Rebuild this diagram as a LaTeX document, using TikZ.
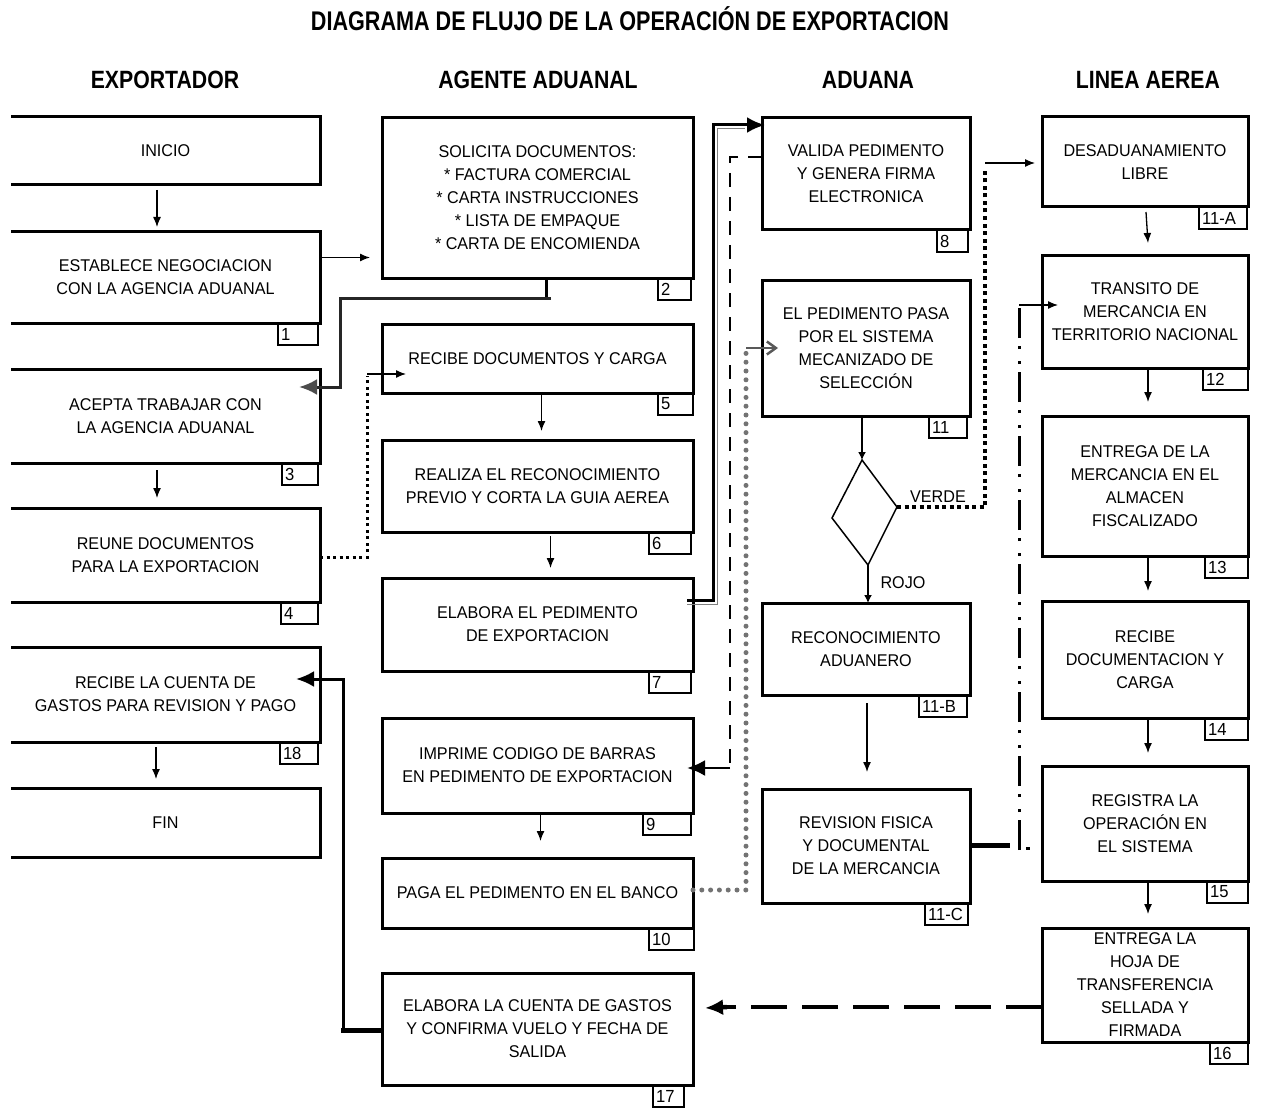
\documentclass[tikz,border=0pt]{standalone}
\usepackage{fontspec}
\setmainfont{Liberation Sans}[FakeStretch=0.95]
\newfontfamily\headfont{Liberation Sans}[FakeStretch=0.85]
\newfontfamily\titlefont{Liberation Sans}[FakeStretch=0.80]
\usetikzlibrary{arrows.meta,calc}
\newcommand\bodyfont{\fontsize{17}{23}\selectfont}
\newcommand\tagfont{\fontsize{17.5}{19}\selectfont}
\tikzset{
  pbox/.style={draw, line width=3pt, inner sep=0pt, outer sep=0pt, align=center, font=\bodyfont},
  obox/.style={pbox, draw=none},
  tagbox/.style={draw, line width=1.2pt, inner xsep=3pt, inner ysep=0pt, outer sep=0pt, minimum height=22pt, align=left, font=\tagfont, anchor=north east},
  sarrow/.style={line width=1.3pt, -{Latex[length=10pt,width=8pt]}},
  bighead/.style={-{Latex[length=18pt,width=16pt]}},
  grayhead/.style={-{Latex[length=18pt,width=16pt,color=black!70]}},
  thickln/.style={line width=3pt},
  sqdots/.style={line width=3pt, dash pattern=on 3pt off 3.5pt},
  rdots/.style={line width=5pt, line cap=round, draw=black!55, dash pattern=on 0pt off 8.8pt},
  heavydots/.style={line width=4pt, dash pattern=on 4pt off 3.5pt},
  dashline/.style={line width=2.6pt, dash pattern=on 14pt off 10pt},
  bigdash/.style={line width=4.5pt, dash pattern=on 36pt off 15pt},
  dashdot/.style={line width=3pt, dash pattern=on 30pt off 8pt on 3pt off 12pt on 3pt off 8pt},
  lbl/.style={font=\bodyfont, inner sep=0pt},
  head/.style={font=\headfont\bfseries\fontsize{25}{28}\selectfont, inner sep=0pt},
}
\newcommand\bx[7]{\node[#1, minimum width={(#5-#3)*1pt}, minimum height={(#6-#4)*1pt}] (#2) at ({(#3+#5)/2},{(#4+#6)/2}) {#7};}
\newcommand\tg[4]{\node[tagbox, text width={(#4-6)*1pt}] (t#1) at ($(#1.south east)+(#3,0)$) {\mbox{#2}};}
\begin{document}
\begin{tikzpicture}[x=1pt,y=-1pt]
\useasboundingbox (0,0) rectangle (1261,1110);
% titles
\node[head, font=\titlefont\bfseries\fontsize{27}{30}\selectfont] (title) at (630,19) {DIAGRAMA DE FLUJO DE LA OPERACIÓN DE EXPORTACION};
\node[head] (h1) at (165,80) {EXPORTADOR};
\node[head] (h2) at (538,80) {AGENTE ADUANAL};
\node[head] (h3) at (868,80) {ADUANA};
\node[head] (h4) at (1148,80) {LINEA AEREA};
% column 1
\bx{obox}{ini}{11}{117}{320}{185}{INICIO}
\bx{obox}{n1}{11}{232}{320}{323}{ESTABLECE NEGOCIACION\\CON LA AGENCIA ADUANAL}
\bx{obox}{n3}{11}{369}{320}{463}{ACEPTA TRABAJAR CON\\LA AGENCIA ADUANAL}
\bx{obox}{n4}{11}{508}{320}{602}{REUNE DOCUMENTOS\\PARA LA EXPORTACION}
\bx{obox}{n18}{11}{647}{320}{742}{RECIBE LA CUENTA DE\\GASTOS PARA REVISION Y PAGO}
\bx{obox}{fin}{11}{788}{320}{857}{FIN}
\foreach \n in {ini,n1,n3,n4,n18,fin}
  \draw[line width=3pt, line join=miter] (\n.north west) -- (\n.north east) -- (\n.south east) -- (\n.south west);
% column 2
\bx{pbox}{n2}{382}{118}{693}{278}{SOLICITA DOCUMENTOS:\\* FACTURA COMERCIAL\\* CARTA INSTRUCCIONES\\* LISTA DE EMPAQUE\\* CARTA DE ENCOMIENDA}
\bx{pbox}{n5}{382}{324}{693}{393}{RECIBE DOCUMENTOS Y CARGA}
\bx{pbox}{n6}{382}{440}{693}{532}{REALIZA EL RECONOCIMIENTO\\PREVIO Y CORTA LA GUIA AEREA}
\bx{pbox}{n7}{382}{578}{693}{671}{ELABORA EL PEDIMENTO\\DE EXPORTACION}
\bx{pbox}{n9}{382}{718}{693}{813}{IMPRIME CODIGO DE BARRAS\\EN PEDIMENTO DE EXPORTACION}
\bx{pbox}{n10}{382}{858}{693}{928}{PAGA EL PEDIMENTO EN EL BANCO}
\bx{pbox}{n17}{382}{973}{693}{1085}{ELABORA LA CUENTA DE GASTOS\\Y CONFIRMA VUELO Y FECHA DE\\SALIDA}
% column 3
\bx{pbox}{n8}{762}{118}{970}{230}{VALIDA PEDIMENTO\\Y GENERA FIRMA\\ELECTRONICA}
\bx{pbox}{n11}{762}{280}{970}{416}{EL PEDIMENTO PASA\\POR EL SISTEMA\\MECANIZADO DE\\SELECCIÓN}
\bx{pbox}{n11B}{762}{603}{970}{695}{RECONOCIMIENTO\\ADUANERO}
\bx{pbox}{n11C}{762}{789}{970}{903}{REVISION FISICA\\Y DOCUMENTAL\\DE LA MERCANCIA}
% column 4
\bx{pbox}{n11A}{1042}{117}{1248}{207}{DESADUANAMIENTO\\LIBRE}
\bx{pbox}{n12}{1042}{255}{1248}{368}{TRANSITO DE\\MERCANCIA EN\\TERRITORIO NACIONAL}
\bx{pbox}{n13}{1042}{416}{1248}{556}{ENTREGA DE LA\\MERCANCIA EN EL\\ALMACEN\\FISCALIZADO}
\bx{pbox}{n14}{1042}{601}{1248}{718}{RECIBE\\DOCUMENTACION Y\\CARGA}
\bx{pbox}{n15}{1042}{766}{1248}{881}{REGISTRA LA\\OPERACIÓN EN\\EL SISTEMA}
\bx{pbox}{n16}{1042}{928}{1248}{1042}{ENTREGA LA\\HOJA DE\\TRANSFERENCIA\\SELLADA Y\\FIRMADA}
% tags
\tg{n1}{1}{-2}{40}
\tg{n3}{3}{-2}{36}
\tg{n4}{4}{-2}{37}
\tg{n18}{18}{-2}{38}
\tg{n2}{2}{-2}{33}
\tg{n5}{5}{0}{35}
\tg{n6}{6}{-2}{42}
\tg{n7}{7}{-2}{42}
\tg{n9}{9}{-2}{48}
\tg{n10}{10}{1}{45}
\tg{n17}{17}{-9}{31}
\tg{n8}{8}{-2}{31}
\tg{n11}{11}{-3}{38}
\tg{n11B}{11-B}{-3}{48}
\tg{n11C}{11-C}{-2}{43}
\tg{n11A}{11-A}{-1}{48}
\tg{n12}{12}{0}{45}
\tg{n13}{13}{0}{43}
\tg{n14}{14}{0}{43}
\tg{n15}{15}{0}{41}
\tg{n16}{16}{0}{38}
% diamond
\coordinate (dt) at (862,460);
\coordinate (dr) at (897,507);
\coordinate (db) at (868,565);
\coordinate (dl) at (832,518);
\draw[line width=1.5pt, line join=miter] (dt) -- (dr) -- (db) -- (dl) -- cycle;
\node[lbl] (verde) at (938,497) {VERDE};
\node[lbl] (rojo) at (903,583) {ROJO};
% column 1 arrows
\draw[sarrow] ($(ini.south)+(-8.5,5)$) -- ($(n1.north)+(-8.5,-5)$);
\draw[sarrow] ($(n3.south)+(-8.5,7)$) -- ($(n4.north)+(-8.5,-10)$);
\draw[sarrow] ($(n18.south)+(-9.5,5)$) -- ($(fin.north)+(-9.5,-9)$);
% 1 -> 2
\draw[sarrow] ($(n1.east)+(0,-20)$) -- ($(n2.west |- n1.east)+(-12,-20)$);
% 2 -> 3
\draw[thickln] ($(n2.south)+(8.5,0)$) -- ++(0,20) -- ++(5,0);
\draw[thickln, draw=black!85, grayhead] ($(n2.south)+(13.5,20)$) -- (340,298) -- (340,387) -- ($(n3.east)+(-21,-29)$);
% 4 -> 5
\draw[sqdots] ($(n4.east)+(0,2)$) -- (367,557) -- (367,376);
\draw[sarrow] (367,374) -- ($(n5.west)+(24,15.5)$);
% 5 -> 6, 6 -> 7, 9 -> 10
\draw[sarrow] ($(n5.south)+(4,0)$) -- ($(n6.north)+(4,-9)$);
\draw[sarrow] ($(n6.south)+(13,4)$) -- ($(n7.north)+(13,-10)$);
\draw[sarrow] ($(n9.south)+(3,2)$) -- ($(n10.north)+(3,-17)$);
% 7 -> 8 (double line)
\draw[line width=1pt, draw=black!50] ($(n7.east)+(-6,-20.5)$) -- (717,604) -- (717,129) -- (745,129);
\draw[line width=3pt, bighead] ($(n7.east)+(-6,-24.5)$) -- (713,600) -- (713,125) -- ($(n8.west)+(3,-49)$);
% 8 -> 9
\draw[dashline] ($(n8.west)+(0,-17)$) -- (730,157) -- (730,765);
\draw[line width=2.6pt, bighead] (730,768) -- ($(n9.east)+(-6,2.5)$);
% 10 -> 11
\draw[rdots] ($(n10.east)+(0,-3)$) -- (746,890) -- (746,350);
\draw[line width=2pt, draw=black!65, -{Straight Barb[length=9pt,width=13pt,line width=2.5pt]}] (746,348) -- ($(n11.west)+(16,0)$);
% 11 -> diamond -> 11B
\draw[line width=1.5pt, -{Latex[length=8pt,width=8pt]}] ($(n11.south)+(-4,0)$) -- (dt);
\draw[line width=1.5pt, -{Latex[length=8pt,width=8pt]}] (db) -- ($(n11B.north)+(2,0)$);
% diamond -> 11A
\draw[heavydots] (dr) -- (985,507) -- (985,168);
\draw[sarrow] (985,163) -- ($(n11A.west)+(-7,1)$);
% 11B -> 11C
\draw[sarrow] ($(n11B.south)+(1,8)$) -- ($(n11C.north)+(1,-17)$);
% 11C -> 12
\draw[line width=5pt] ($(n11C.east)+(0,-1)$) -- (1010,845);
\draw[dashdot] (1019,850) -- (1019,306);
\draw[line width=3pt] (1026,848) -- (1030,848);
\draw[sarrow] (1019,305) -- ($(n12.west)+(16,-6.5)$);
% column 4 arrows
\draw[sarrow] ($(n11A.south)+(1,5)$) -- ($(n12.north)+(3,-12)$);
\draw[sarrow] ($(n12.south)+(3,0)$) -- ($(n13.north)+(3,-14)$);
\draw[sarrow] ($(n13.south)+(3,0)$) -- ($(n14.north)+(3,-10)$);
\draw[sarrow] ($(n14.south)+(3,0)$) -- ($(n15.north)+(3,-13)$);
\draw[sarrow] ($(n15.south)+(3,0)$) -- ($(n16.north)+(3,-14)$);
% 16 -> 17
\draw[bigdash] ($(n16.west)+(0,22)$) -- (725,1007);
\draw[line width=4.5pt, bighead] (727,1007) -- ($(n17.east)+(12,-21)$);
% 17 -> 18
\draw[line width=5pt] ($(n17.west)+(0,1)$) -- (341,1030);
\draw[line width=3pt, bighead] (343,1031) -- (343,679) -- ($(n18.east)+(-24,-15.5)$);
\end{tikzpicture}
\end{document}
